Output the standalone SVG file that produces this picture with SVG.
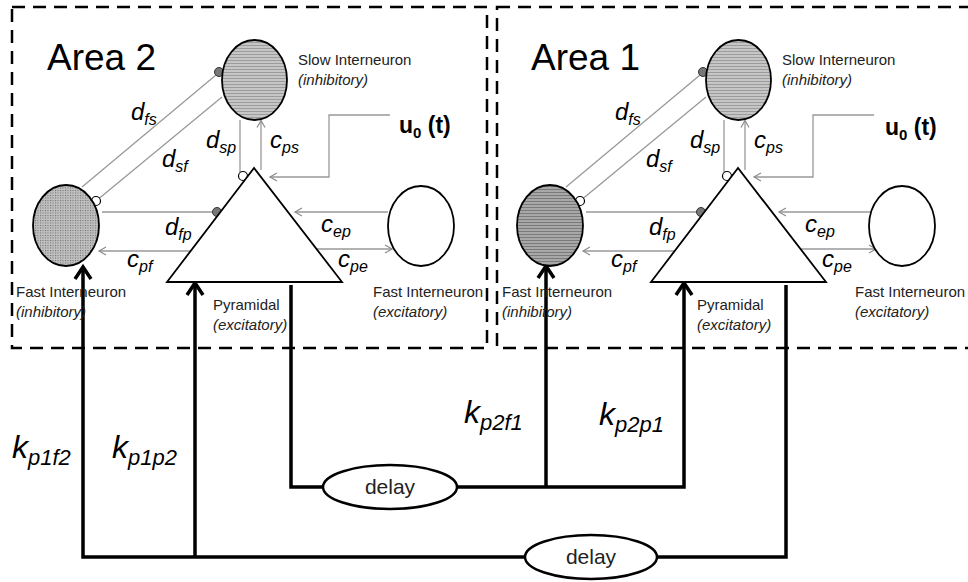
<svg xmlns="http://www.w3.org/2000/svg" width="968" height="582" viewBox="0 0 968 582">
<style>
.box{fill:none;stroke:#000;stroke-width:2.5;stroke-dasharray:13 8}
.gl{fill:none;stroke:#999;stroke-width:1.3}
.k{fill:none;stroke:#000;stroke-width:3.5}
.nd{stroke:#000;stroke-width:1.8}
.dly{fill:#fff;stroke:#000;stroke-width:2.5}
.sd{fill:#777;stroke:#333;stroke-width:1}
.sw{fill:#fff;stroke:#000;stroke-width:1.2}
text{font-family:"Liberation Sans",Arial,sans-serif;fill:#000}
.area{font-size:37px}
.lab{font-size:24px;font-style:italic}
.sub{font-size:16px}
.ks{font-size:32px;font-style:italic}
.ksub{font-size:22px}
.sm{font-size:15px;fill:#222}
.it{font-style:italic}
.u0{font-size:23px;font-weight:bold}
.dt{font-size:21px;fill:#222;text-anchor:middle}
</style>
<defs>
<pattern id="hl" width="4" height="3" patternUnits="userSpaceOnUse"><rect width="4" height="3" fill="#c6c6c6"/><rect width="4" height="1" fill="#9c9c9c"/></pattern>
<pattern id="hl2" width="4" height="3" patternUnits="userSpaceOnUse"><rect width="4" height="3" fill="#a8a8a8"/><rect width="4" height="1" fill="#7a7a7a"/></pattern>
<pattern id="dots" width="2.5" height="2.5" patternUnits="userSpaceOnUse"><rect width="2.5" height="2.5" fill="#c0c0c0"/><rect width="1" height="1" fill="#6a6a6a"/></pattern>
<marker id="ta" markerUnits="userSpaceOnUse" markerWidth="10" markerHeight="10" refX="7" refY="4" orient="auto" overflow="visible"><path d="M0,0 L7,4 L0,8" fill="none" stroke="#8c8c8c" stroke-width="1.2"/></marker>
<marker id="ka" markerUnits="userSpaceOnUse" markerWidth="18" markerHeight="20" refX="12" refY="9" orient="auto" overflow="visible"><path d="M1,1 L13,9 L1,17" fill="none" stroke="#000" stroke-width="3.5"/></marker>
</defs>

<g id="area2-box"><rect class="box" x="12" y="7" width="475" height="341"/><text class="area" x="47" y="70">Area 2</text></g>
<g id="area1-box"><rect class="box" x="497" y="7" width="490" height="341"/><text class="area" x="531" y="70">Area 1</text></g>

<g id="connectors">
  <g id="area2-links">
    <line class="gl" x1="82" y1="187" x2="216" y2="75"/>
    <line class="gl" x1="222" y1="97" x2="99" y2="198.5"/>
    <line class="gl" x1="240" y1="120" x2="240" y2="172"/>
    <line class="gl" x1="261" y1="170" x2="261" y2="120.5" marker-end="url(#ta)"/>
    <polyline class="gl" points="390,115 329,115 329,177 270,177" marker-end="url(#ta)"/>
    <line class="gl" x1="102" y1="212" x2="212.5" y2="212"/>
    <line class="gl" x1="190" y1="251" x2="99" y2="251" marker-end="url(#ta)"/>
    <line class="gl" x1="388" y1="212" x2="295" y2="212" marker-end="url(#ta)"/>
    <line class="gl" x1="317" y1="249" x2="392" y2="249" marker-end="url(#ta)"/>
    <circle class="sd" cx="219" cy="72" r="4.5"/>
    <circle class="sw" cx="96" cy="201" r="4.5"/>
    <circle class="sw" cx="243" cy="176" r="4.5"/>
    <circle class="sd" cx="217" cy="212" r="4.5"/>
  </g>
  <g id="area1-links" transform="translate(484,0)">
    <line class="gl" x1="82" y1="187" x2="216" y2="75"/>
    <line class="gl" x1="222" y1="97" x2="99" y2="198.5"/>
    <line class="gl" x1="240" y1="120" x2="240" y2="172"/>
    <line class="gl" x1="261" y1="170" x2="261" y2="120.5" marker-end="url(#ta)"/>
    <polyline class="gl" points="390,115 329,115 329,177 270,177" marker-end="url(#ta)"/>
    <line class="gl" x1="102" y1="212" x2="212.5" y2="212"/>
    <line class="gl" x1="190" y1="251" x2="99" y2="251" marker-end="url(#ta)"/>
    <line class="gl" x1="388" y1="212" x2="295" y2="212" marker-end="url(#ta)"/>
    <line class="gl" x1="317" y1="249" x2="392" y2="249" marker-end="url(#ta)"/>
    <circle class="sd" cx="219" cy="72" r="4.5"/>
    <circle class="sw" cx="96" cy="201" r="4.5"/>
    <circle class="sw" cx="243" cy="176" r="4.5"/>
    <circle class="sd" cx="217" cy="212" r="4.5"/>
  </g>
  <g id="inter-area">
    <path class="k" d="M525,557 H83 V268" marker-end="url(#ka)"/>
    <path class="k" d="M195,557 V284" marker-end="url(#ka)"/>
    <path class="k" d="M657,557 H786 V285"/>
    <path class="k" d="M323,487 H291 V285"/>
    <path class="k" d="M457,487 H684 V284" marker-end="url(#ka)"/>
    <path class="k" d="M546,487 V267" marker-end="url(#ka)"/>
  </g>
</g>

<g id="labels2">
  <text class="lab" x="131" y="120">d<tspan class="sub" dy="5">fs</tspan></text>
  <text class="lab" x="162" y="167">d<tspan class="sub" dy="5">sf</tspan></text>
  <text class="lab" x="206" y="148">d<tspan class="sub" dy="5">sp</tspan></text>
  <text class="lab" x="270" y="148">c<tspan class="sub" dy="5">ps</tspan></text>
  <text class="lab" x="165" y="235">d<tspan class="sub" dy="5">fp</tspan></text>
  <text class="lab" x="127" y="267">c<tspan class="sub" dy="5">pf</tspan></text>
  <text class="lab" x="321" y="232">c<tspan class="sub" dy="5">ep</tspan></text>
  <text class="lab" x="338" y="267">c<tspan class="sub" dy="5">pe</tspan></text>
</g>
<g id="labels1" transform="translate(484,0)">
  <text class="lab" x="131" y="120">d<tspan class="sub" dy="5">fs</tspan></text>
  <text class="lab" x="162" y="167">d<tspan class="sub" dy="5">sf</tspan></text>
  <text class="lab" x="206" y="148">d<tspan class="sub" dy="5">sp</tspan></text>
  <text class="lab" x="270" y="148">c<tspan class="sub" dy="5">ps</tspan></text>
  <text class="lab" x="165" y="235">d<tspan class="sub" dy="5">fp</tspan></text>
  <text class="lab" x="127" y="267">c<tspan class="sub" dy="5">pf</tspan></text>
  <text class="lab" x="321" y="232">c<tspan class="sub" dy="5">ep</tspan></text>
  <text class="lab" x="338" y="267">c<tspan class="sub" dy="5">pe</tspan></text>
</g>

<g id="slow2">
  <ellipse class="nd" cx="254.5" cy="80" rx="32.5" ry="40" fill="url(#hl)"/>
  <text class="sm" x="298" y="65">Slow Interneuron</text>
  <text class="sm it" x="298" y="85">(inhibitory)</text>
</g>
<g id="fast2">
  <ellipse class="nd" cx="66" cy="225.5" rx="33" ry="40.5" fill="url(#dots)"/>
  <text class="sm" x="16" y="297">Fast Interneuron</text>
  <text class="sm it" x="16" y="317">(inhibitory)</text>
</g>
<g id="pyr2">
  <polygon class="nd" points="254,168 167,282 342,282" fill="#fff"/>
  <text class="sm" x="213" y="310">Pyramidal</text>
  <text class="sm it" x="213" y="330">(excitatory)</text>
</g>
<g id="exc2">
  <ellipse class="nd" cx="421" cy="226" rx="33" ry="40" fill="#fff"/>
  <text class="sm" x="373" y="297">Fast Interneuron</text>
  <text class="sm it" x="373" y="317">(excitatory)</text>
</g>
<g id="input2"><text class="u0" x="399" y="133">u<tspan font-size="15" dy="5">0</tspan><tspan dy="-5"> (t)</tspan></text></g>

<g id="slow1" transform="translate(484,0)">
  <ellipse class="nd" cx="254.5" cy="80" rx="32.5" ry="40" fill="url(#hl)"/>
  <text class="sm" x="298" y="65">Slow Interneuron</text>
  <text class="sm it" x="298" y="85">(inhibitory)</text>
</g>
<g id="fast1" transform="translate(484,0)">
  <ellipse class="nd" cx="66" cy="225.5" rx="33" ry="40.5" fill="url(#hl2)"/>
  <text class="sm" x="18" y="297">Fast Interneuron</text>
  <text class="sm it" x="18" y="317">(inhibitory)</text>
</g>
<g id="pyr1" transform="translate(484,0)">
  <polygon class="nd" points="254,168 167,282 342,282" fill="#fff"/>
  <text class="sm" x="213" y="310">Pyramidal</text>
  <text class="sm it" x="213" y="330">(excitatory)</text>
</g>
<g id="exc1" transform="translate(484,0)">
  <ellipse class="nd" cx="418" cy="226" rx="33" ry="40" fill="#fff"/>
  <text class="sm" x="371" y="297">Fast Interneuron</text>
  <text class="sm it" x="371" y="317">(excitatory)</text>
</g>
<g id="input1" transform="translate(484,0)"><text class="u0" x="401" y="135">u<tspan font-size="15" dy="5">0</tspan><tspan dy="-5"> (t)</tspan></text></g>

<g id="delay-upper">
  <ellipse class="dly" cx="390" cy="487" rx="67" ry="22"/>
  <text class="dt" x="390" y="494">delay</text>
</g>
<g id="delay-lower">
  <ellipse class="dly" cx="591" cy="557" rx="66" ry="22"/>
  <text class="dt" x="591" y="564">delay</text>
</g>

<g id="k-labels">
  <text class="ks" x="12" y="458">k<tspan class="ksub" dy="7">p1f2</tspan></text>
  <text class="ks" x="112" y="458">k<tspan class="ksub" dy="7">p1p2</tspan></text>
  <text class="ks" x="464" y="423">k<tspan class="ksub" dy="7">p2f1</tspan></text>
  <text class="ks" x="599" y="425">k<tspan class="ksub" dy="7">p2p1</tspan></text>
</g>
</svg>
